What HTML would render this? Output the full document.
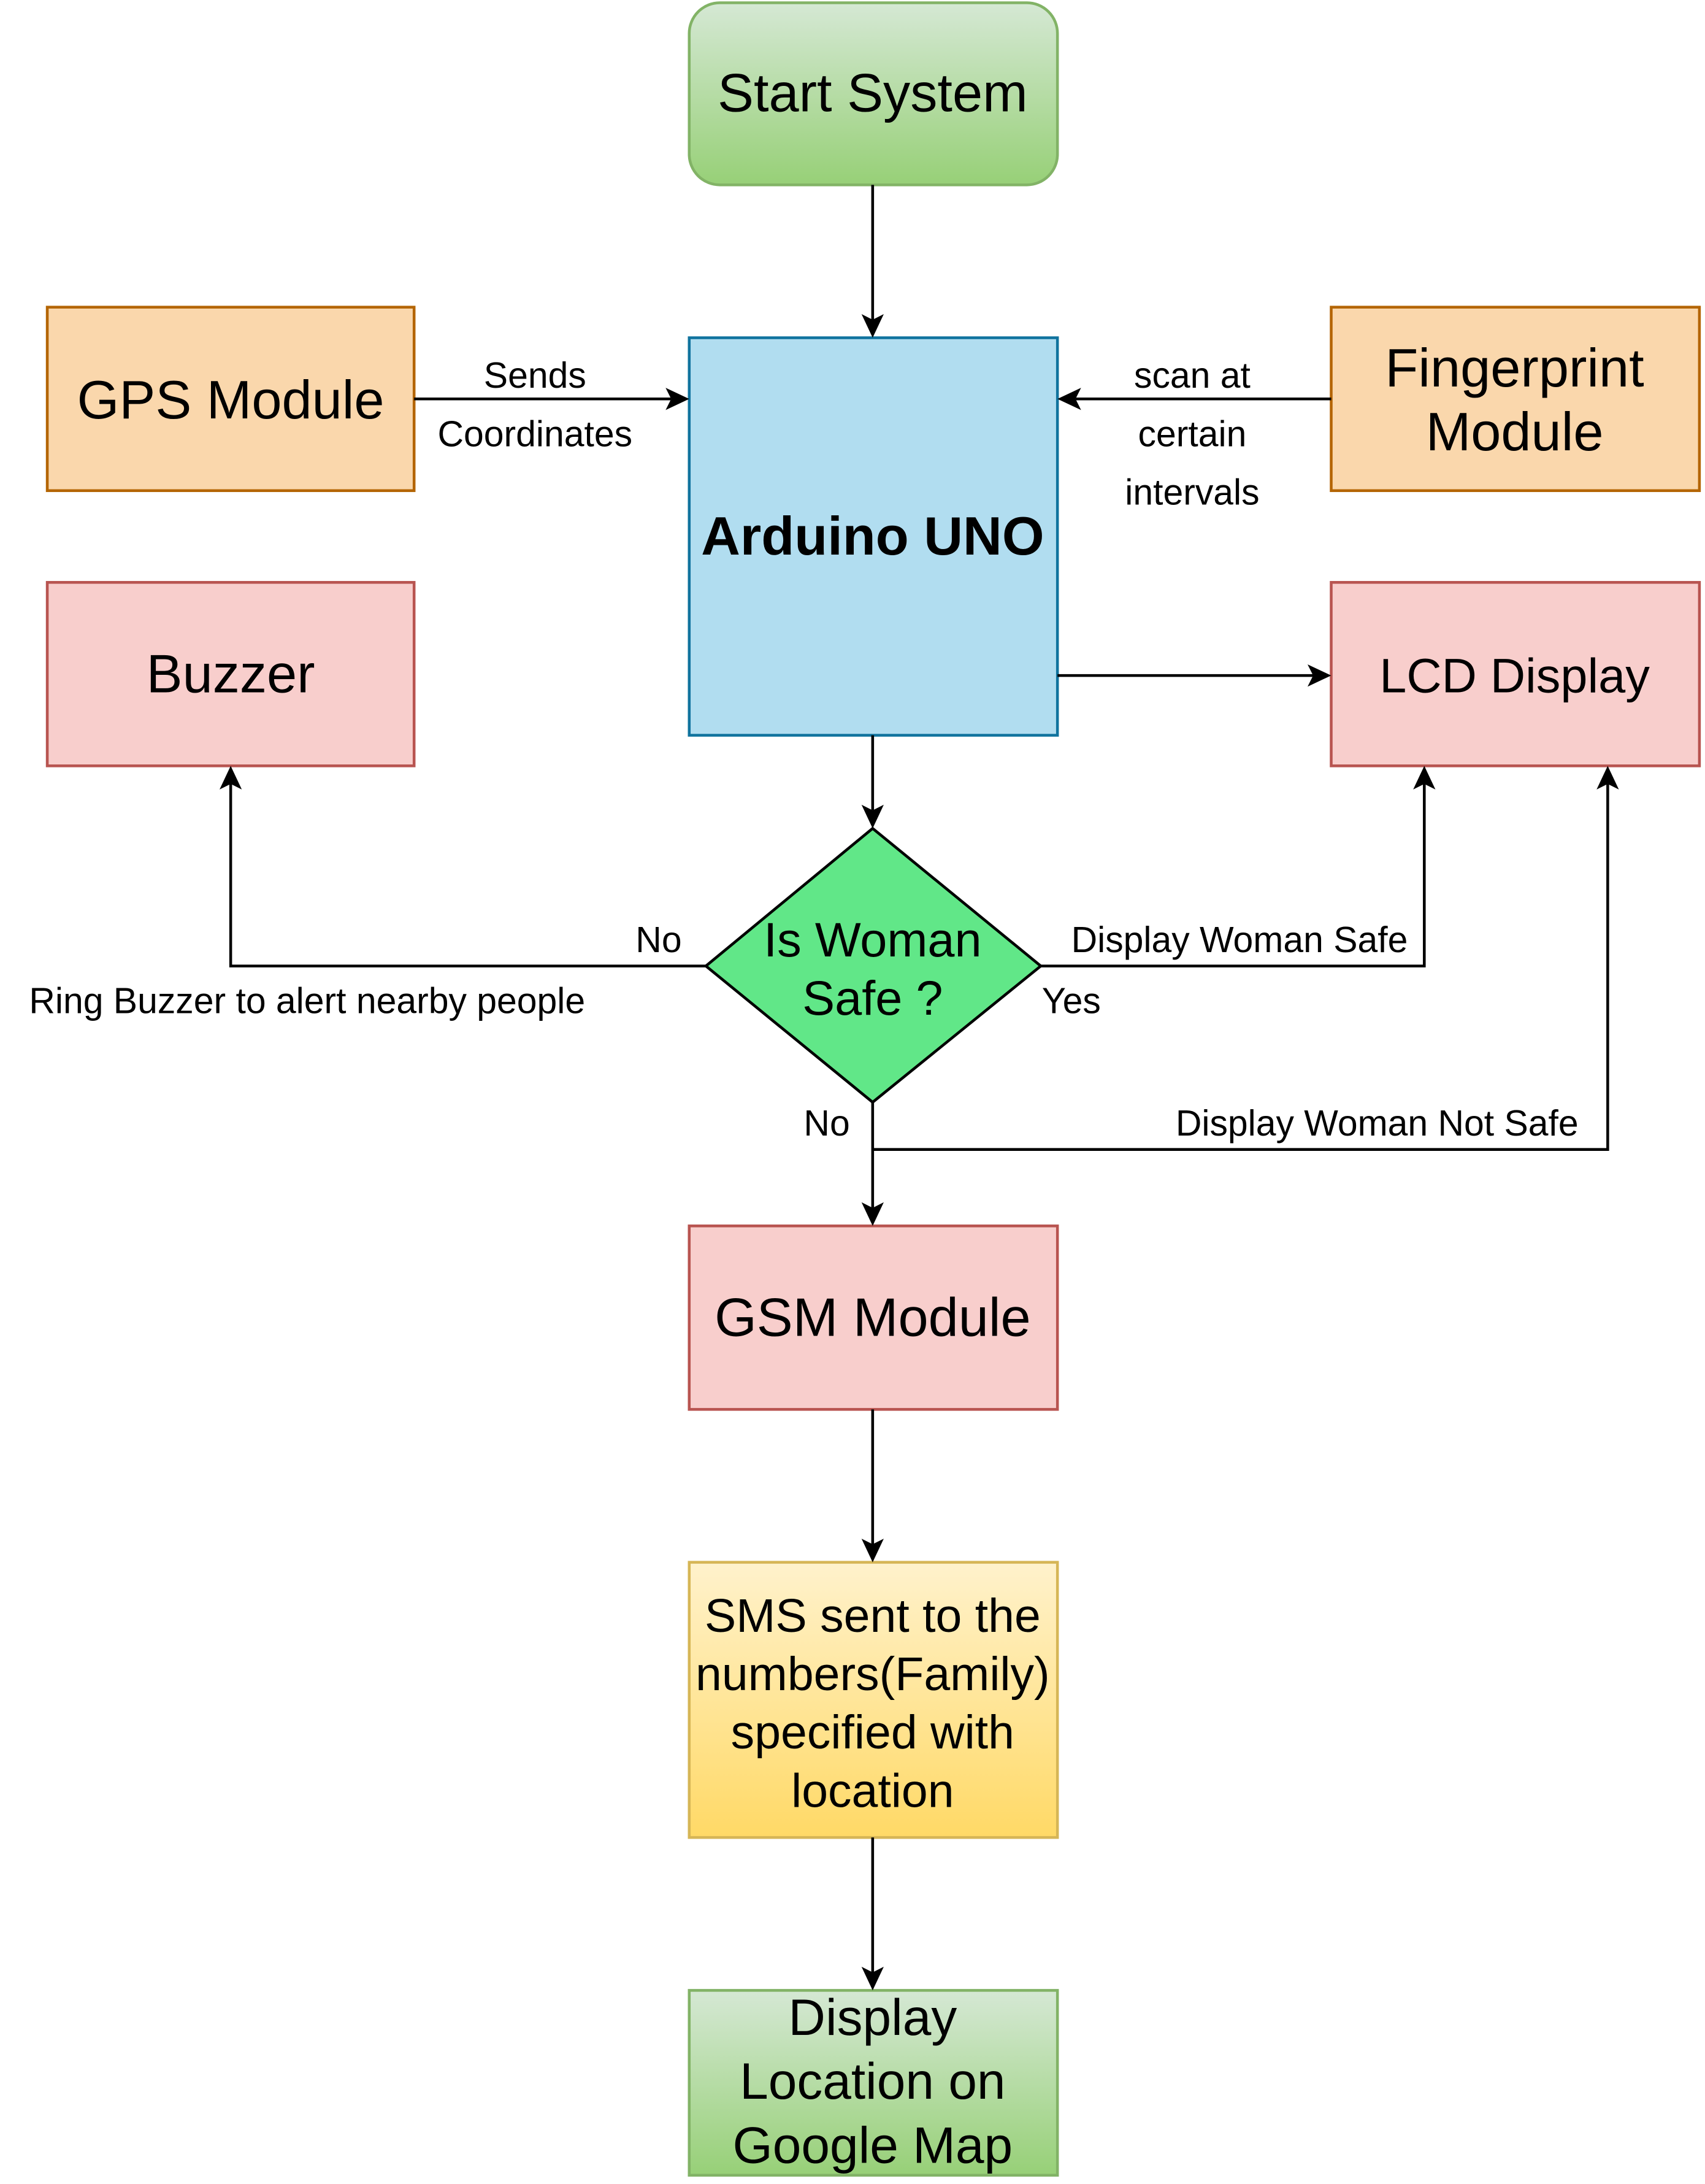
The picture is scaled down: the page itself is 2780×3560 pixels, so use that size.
<!DOCTYPE html>
<html><head><meta charset="utf-8"><style>html,body{margin:0;padding:0;background:#fff}svg{display:block}</style></head>
<body>
<svg xmlns="http://www.w3.org/2000/svg" width="2780" height="3560" viewBox="0 0 1227 1571.3" font-family="'Liberation Sans', Arial, sans-serif">
<defs>
<linearGradient id="gg" x1="0" y1="0" x2="0" y2="1"><stop offset="0" stop-color="#d5e8d4"/><stop offset="1" stop-color="#97d077"/></linearGradient>
<linearGradient id="gy" x1="0" y1="0" x2="0" y2="1"><stop offset="0" stop-color="#fff2cc"/><stop offset="1" stop-color="#ffd966"/></linearGradient>
</defs>
<rect width="1227" height="1571.3" fill="#fff"/>
<rect x="496" y="2" width="265" height="131" rx="22" fill="url(#gg)" stroke="#82b366" stroke-width="2"/>
<text x="628" y="80" font-size="39" text-anchor="middle">Start System</text>
<rect x="496" y="243" width="265" height="286" fill="#b1ddf0" stroke="#10739e" stroke-width="2"/>
<text x="628" y="399" font-size="39" font-weight="bold" text-anchor="middle">Arduino UNO</text>
<rect x="34" y="221" width="264" height="132" fill="#fad7ac" stroke="#b46504" stroke-width="2"/>
<text x="166" y="301" font-size="39" text-anchor="middle">GPS Module</text>
<rect x="958" y="221" width="265" height="132" fill="#fad7ac" stroke="#b46504" stroke-width="2"/>
<text x="1090" y="278" font-size="39" text-anchor="middle">Fingerprint</text>
<text x="1090" y="324" font-size="39" text-anchor="middle">Module</text>
<rect x="34" y="419" width="264" height="132" fill="#f8cecc" stroke="#b85450" stroke-width="2"/>
<text x="166" y="498" font-size="39" text-anchor="middle">Buzzer</text>
<rect x="958" y="419" width="265" height="132" fill="#f8cecc" stroke="#b85450" stroke-width="2"/>
<text x="1090" y="498" font-size="35" text-anchor="middle">LCD Display</text>
<polygon points="628,596 749,695 628,793 508,695" fill="#61e788" stroke="#000" stroke-width="2"/>
<text x="628" y="688" font-size="35" text-anchor="middle">Is Woman</text>
<text x="628" y="730" font-size="35" text-anchor="middle">Safe ?</text>
<rect x="496" y="882" width="265" height="132" fill="#f8cecc" stroke="#b85450" stroke-width="2"/>
<text x="628" y="961" font-size="39" text-anchor="middle">GSM Module</text>
<rect x="496" y="1124" width="265" height="198" fill="url(#gy)" stroke="#d6b656" stroke-width="2"/>
<g font-size="34" text-anchor="middle">
<text x="628" y="1174">SMS sent to the</text>
<text x="628" y="1216">numbers(Family)</text>
<text x="628" y="1258">specified with</text>
<text x="628" y="1300">location</text>
</g>
<rect x="496" y="1432" width="265" height="133" fill="url(#gg)" stroke="#82b366" stroke-width="2"/>
<g font-size="37" text-anchor="middle">
<text x="628" y="1464">Display</text>
<text x="628" y="1510">Location on</text>
<text x="628" y="1556">Google Map</text>
</g>
<g stroke="#000" stroke-width="2" fill="none">
<path d="M628 133V230"/>
<path d="M298 287H483"/>
<path d="M958 287H774"/>
<path d="M761 486H945"/>
<path d="M628 529V583"/>
<path d="M508 695H166V564"/>
<path d="M749 695H1025V564"/>
<path d="M628 793V869"/>
<path d="M628 827H1157V564"/>
<path d="M628 1014V1111"/>
<path d="M628 1322V1419"/>
</g>
<g fill="#000">
<polygon points="628,243 620,226 628,230 636,226"/>
<polygon points="496,287 479,279 483,287 479,295"/>
<polygon points="761,287 778,279 774,287 778,295"/>
<polygon points="958,486 941,478 945,486 941,494"/>
<polygon points="628,596 620,579 628,583 636,579"/>
<polygon points="166,551 158,568 166,564 174,568"/>
<polygon points="1025,551 1017,568 1025,564 1033,568"/>
<polygon points="1157,551 1149,568 1157,564 1165,568"/>
<polygon points="628,882 620,865 628,869 636,865"/>
<polygon points="628,1124 620,1107 628,1111 636,1107"/>
<polygon points="628,1432 620,1415 628,1419 636,1415"/>
</g>
<g font-size="26" text-anchor="middle">
<text x="385" y="279">Sends</text>
<text x="385" y="321">Coordinates</text>
<text x="858" y="279">scan at</text>
<text x="858" y="321">certain</text>
<text x="858" y="363">intervals</text>
<text x="474" y="685">No</text>
<text x="221" y="729">Ring Buzzer to alert nearby people</text>
<text x="892" y="685">Display Woman Safe</text>
<text x="771" y="729">Yes</text>
<text x="595" y="817">No</text>
<text x="991" y="817">Display Woman Not Safe</text>
</g>
</svg>
</body></html>
